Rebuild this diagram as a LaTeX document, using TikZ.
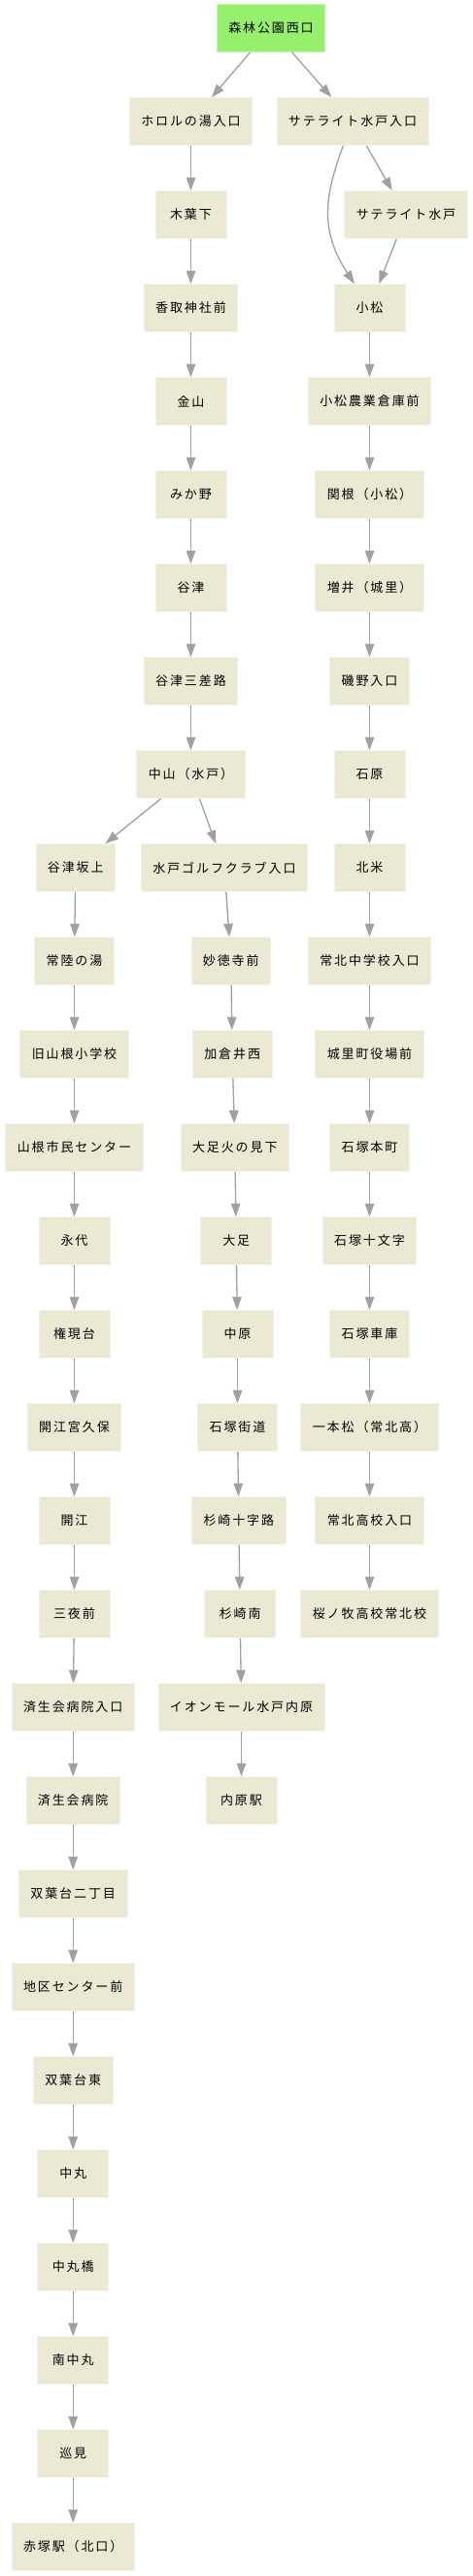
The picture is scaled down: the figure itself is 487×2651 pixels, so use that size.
\documentclass[tikz,border=0pt]{standalone}
\usepackage{fontspec}
\newfontfamily\jp[LetterSpace=14.6]{Noto Sans CJK JP}
\usetikzlibrary{arrows.meta}
\definecolor{nodebg}{HTML}{EBE9D3}
\definecolor{topbg}{HTML}{96F06E}
\definecolor{edgec}{HTML}{A0A0A0}
\begin{document}
\begin{tikzpicture}[x=1pt,y=-1pt,
  stop/.style={rectangle, fill=nodebg, draw=nodebg!55!white, line width=0.8pt,
    minimum width=73pt, minimum height=49pt, inner xsep=12pt, inner ysep=0pt,
    font=\jp\fontsize{13pt}{15pt}\selectfont},
  start/.style={stop, fill=topbg, draw=topbg!55!white},
  link/.style={draw=edgec, line width=1.3pt, -{Triangle[length=13.5pt,width=9.5pt]}}]
\useasboundingbox (0,0) rectangle (487,2651);
% top
\node[start] (root) at (279,29) {森林公園西口};
% left trunk
\node[stop] (hor) at (196.5,125) {ホロルの湯入口};
\node[stop] (kib) at (196.5,221) {木葉下};
\node[stop] (kat) at (196.5,317) {香取神社前};
\node[stop] (kan) at (196.5,413) {金山};
\node[stop] (mik) at (196.5,509) {みか野};
\node[stop] (yat) at (196.5,605) {谷津};
\node[stop] (yts) at (196.5,701) {谷津三差路};
\node[stop] (nak) at (196.5,797) {中山（水戸）};
% left branch
\node[stop] (w1) at (77.8,893) {谷津坂上};
\node[stop] (w2) at (76.5,989) {常陸の湯};
\node[stop] (w3) at (76.5,1085) {旧山根小学校};
\node[stop] (w4) at (76.5,1181) {山根市民センター};
\node[stop] (w5) at (76.5,1277) {永代};
\node[stop] (w6) at (76.5,1373) {権現台};
\node[stop] (w7) at (76.5,1469) {開江宮久保};
\node[stop] (w8) at (76.5,1565) {開江};
\node[stop] (w9) at (76.5,1661) {三夜前};
\node[stop] (w10) at (75.2,1757) {済生会病院入口};
\node[stop] (w11) at (75.2,1853) {済生会病院};
\node[stop] (w12) at (75.2,1949) {双葉台二丁目};
\node[stop] (w13) at (75.2,2045) {地区センター前};
\node[stop] (w14) at (75.2,2141) {双葉台東};
\node[stop] (w15) at (75.2,2237) {中丸};
\node[stop] (w16) at (75.2,2333) {中丸橋};
\node[stop] (w17) at (75.2,2429) {南中丸};
\node[stop] (w18) at (75.2,2525) {巡見};
\node[stop] (w19) at (75.2,2621) {赤塚駅（北口）};
% middle branch
\node[stop] (m1) at (231,893) {水戸ゴルフクラブ入口};
\node[stop] (m2) at (237.8,989) {妙徳寺前};
\node[stop] (m3) at (239.2,1085) {加倉井西};
\node[stop] (m4) at (241.8,1181) {大足火の見下};
\node[stop] (m5) at (243.2,1277) {大足};
\node[stop] (m6) at (244.5,1373) {中原};
\node[stop] (m7) at (244.5,1469) {石塚街道};
\node[stop] (m8) at (245.8,1565) {杉崎十字路};
\node[stop] (m9) at (247.2,1661) {杉崎南};
\node[stop] (m10) at (248.5,1757) {イオンモール水戸内原};
\node[stop] (m11) at (248.5,1853) {内原駅};
% right branch
\node[stop] (sat1) at (363,125) {サテライト水戸入口};
\node[stop] (sat2) at (418,221) {サテライト水戸};
\node[stop] (r1) at (380.5,317) {小松};
\node[stop] (r2) at (380.5,413) {小松農業倉庫前};
\node[stop] (r3) at (380.5,509) {関根（小松）};
\node[stop] (r4) at (380.5,605) {増井（城里）};
\node[stop] (r5) at (380.5,701) {磯野入口};
\node[stop] (r6) at (380.5,797) {石原};
\node[stop] (r7) at (380.5,893) {北米};
\node[stop] (r8) at (380.5,989) {常北中学校入口};
\node[stop] (r9) at (380.5,1085) {城里町役場前};
\node[stop] (r10) at (380.5,1181) {石塚本町};
\node[stop] (r11) at (380.5,1277) {石塚十文字};
\node[stop] (r12) at (380.5,1373) {石塚車庫};
\node[stop] (r13) at (380.5,1469) {一本松（常北高）};
\node[stop] (r14) at (380.5,1565) {常北高校入口};
\node[stop] (r15) at (380.5,1661) {桜ノ牧高校常北校};
% edges
\foreach \a/\b in {root/hor, root/sat1, sat1/sat2, sat2/r1,
  hor/kib, kib/kat, kat/kan, kan/mik, mik/yat, yat/yts, yts/nak,
  nak/w1, nak/m1,
  w1/w2, w2/w3, w3/w4, w4/w5, w5/w6, w6/w7, w7/w8, w8/w9, w9/w10,
  w10/w11, w11/w12, w12/w13, w13/w14, w14/w15, w15/w16, w16/w17, w17/w18, w18/w19,
  m1/m2, m2/m3, m3/m4, m4/m5, m5/m6, m6/m7, m7/m8, m8/m9, m9/m10, m10/m11,
  r1/r2, r2/r3, r3/r4, r4/r5, r5/r6, r6/r7, r7/r8, r8/r9, r9/r10, r10/r11,
  r11/r12, r12/r13, r13/r14, r14/r15}
  \draw[link] (\a) -- (\b);
\draw[link] ([xshift=-9.7pt]sat1.south) .. controls (335,200) and (328,236) .. ([xshift=-15.5pt]r1.north);
\end{tikzpicture}
\end{document}
